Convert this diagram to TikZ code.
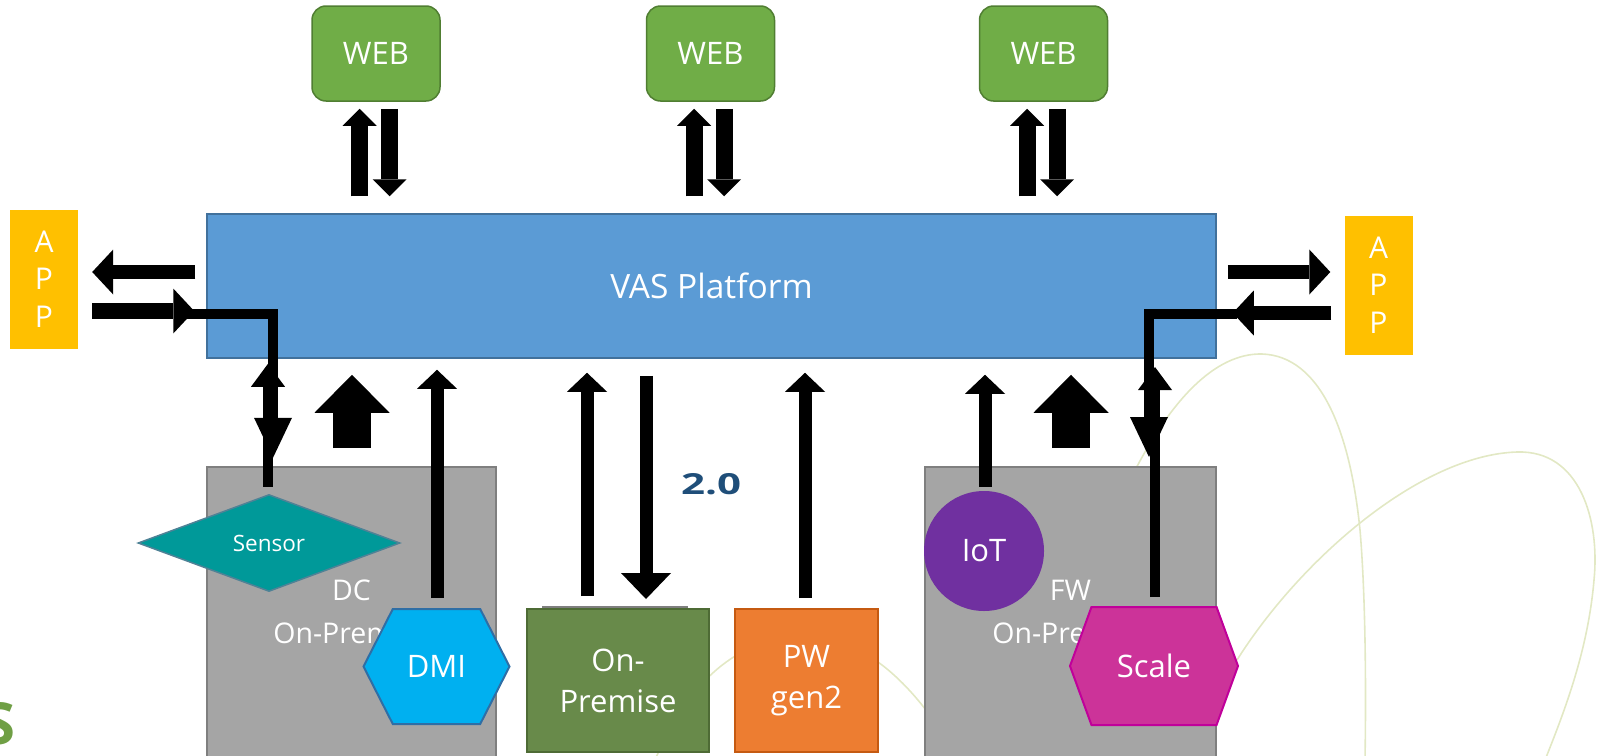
\documentclass[tikz,border=0pt]{standalone}
\usepackage{fontspec}
\setmainfont{Open Sans}
\usetikzlibrary{arrows.meta,shapes.geometric,shapes.symbols,calc}
\definecolor{webfill}{HTML}{70AD47}
\definecolor{webdraw}{HTML}{507E32}
\definecolor{vasfill}{HTML}{5B9BD5}
\definecolor{vasdraw}{HTML}{41719C}
\definecolor{appfill}{HTML}{FFC000}
\definecolor{grayfill}{HTML}{A5A5A5}
\definecolor{graydraw}{HTML}{7F7F7F}
\definecolor{sensorfill}{HTML}{009999}
\definecolor{sensordraw}{HTML}{4F8296}
\definecolor{dmifill}{HTML}{00B0F0}
\definecolor{dmidraw}{HTML}{2F6EA5}
\definecolor{onpfill}{HTML}{688A4A}
\definecolor{onpdraw}{HTML}{4E6B35}
\definecolor{pwfill}{HTML}{ED7D31}
\definecolor{pwdraw}{HTML}{C55A11}
\definecolor{iotfill}{HTML}{7030A0}
\definecolor{scalefill}{HTML}{CC3399}
\definecolor{scaledraw}{HTML}{C0009A}
\definecolor{lblblue}{HTML}{1F4E79}
\definecolor{curvecol}{HTML}{E2E8C4}
\definecolor{sgreen}{HTML}{6F9F45}
\tikzset{
  txt/.style={text=white, font=\fontsize{31}{41}\selectfont, align=center, inner sep=0pt},
  webbox/.style={txt, fill=webfill, draw=webdraw, line width=1.5pt, rounded corners=14pt, minimum width=128pt, minimum height=95pt},
  appbox/.style={txt, fill=appfill, minimum width=68pt, minimum height=139pt, font=\fontsize{30}{37.5}\selectfont},
  graybox/.style={txt, fill=grayfill, draw=graydraw, line width=2pt, font=\fontsize{28.5}{43}\selectfont},
  sqbox/.style={txt, line width=2pt, minimum height=143pt},
  hexbox/.style={txt, shape=signal, signal to=east and west, line width=2pt},
  bgcurve/.style={draw=curvecol, line width=1.6pt},
  wup/.style={line width=17pt, -{Triangle[width=34pt,length=17pt,line width=0pt]}},
  bigup/.style={line width=38pt, -{Triangle[width=75pt,length=38pt,line width=0pt]}},
  thinup/.style={line width=13pt, -{Triangle[width=40pt,length=19pt,line width=0pt]}},
  bigdown/.style={line width=13pt, -{Triangle[width=50pt,length=26pt,line width=0pt]}},
  harr/.style={line width=14pt, -{Triangle[width=45pt,length=21pt,line width=0pt]}},
  elbow/.style={line width=10pt, -{Triangle[width=38pt,length=40pt,line width=0pt]}},
  elbowup/.style={line width=10pt, -{Triangle[width=34pt,length=23pt,line width=0pt]}},
}
\begin{document}
\begin{tikzpicture}[x=1pt,y=-1pt]
\useasboundingbox (0,0) rectangle (1598,755);
\clip (0,0) rectangle (1598,755);
% background decorative curves
\draw[bgcurve] (655,760) .. controls (685,690) and (730,640) .. (800,636) .. controls (860,634) and (910,680) .. (950,745);
\draw[bgcurve] (1130,480) .. controls (1170,400) and (1215,353) .. (1262,354) .. controls (1320,356) and (1350,430) .. (1360,530) .. controls (1366,600) and (1366,700) .. (1365,760);
\draw[bgcurve] (1237,660) .. controls (1300,560) and (1420,455) .. (1517,452) .. controls (1580,450) and (1600,520) .. (1594,580) .. controls (1588,650) and (1565,710) .. (1545,760);
% top web boxes
\node[webbox] (web1) at (376,53.5) {WEB};
\node[webbox] (web2) at (710.5,53.5) {WEB};
\node[webbox] (web3) at (1043.5,53.5) {WEB};
% platform
\node[txt, fill=vasfill, draw=vasdraw, line width=1.5pt, minimum width=1009pt, minimum height=144pt, font=\fontsize{33.5}{40}\selectfont] (vas) at (711.5,286) {VAS Platform};
% apps
\node[appbox] (app1) at (44,279) {A\\P\\P};
\node[appbox] (app2) at (1378.5,285) {A\\P\\P};
% grey premises boxes
\node[graybox, minimum width=289pt, minimum height=290pt] (dc) at (351.5,612) {DC\\On-Premise};
\node[graybox, minimum width=291pt, minimum height=290pt] (fw) at (1070.5,612) {FW\\On-Premise};
% bottom elements
\node[txt, shape=diamond, fill=sensorfill, draw=sensordraw, line width=1.5pt, minimum width=262pt, minimum height=97pt, font=\fontsize{22.5}{26}\selectfont] (sensor) at (269,543) {Sensor};
\node[hexbox, fill=dmifill, draw=dmidraw, minimum width=146pt, minimum height=115pt, signal pointer angle=126] (dmi) at (436.5,666.5) {DMI};
\fill[graydraw] (542,606) rectangle (688,612);
\node[sqbox, fill=onpfill, draw=onpdraw, minimum width=182pt] (onp) at (618,680.5) {\raisebox{-3pt}{On-}\\\raisebox{-3pt}{Premise}};
\node[sqbox, fill=pwfill, draw=pwdraw, minimum width=143pt] (pw) at (806.5,680.5) {\raisebox{-3pt}{PW}\\\raisebox{-3pt}{gen2}};
\node[txt, circle, fill=iotfill, minimum size=120pt] (iot) at (984,551) {IoT};
\node[hexbox, fill=scalefill, draw=scaledraw, minimum width=168pt, minimum height=118pt, signal pointer angle=140] (scale) at (1154,666) {Scale};
% arrows platform <-> web
\foreach \w in {web1,web2,web3}{
  \draw[wup] ($(vas.north -| \w.south)+(-16.5,-17)$) -- ($(\w.south)+(-16.5,7)$);
  \draw[wup] ($(\w.south)+(13.5,7)$) -- ($(vas.north -| \w.south)+(13.5,-17)$);
}
% left app arrows
\draw[harr] ($(vas.west)+(-11,-14)$) -- ($(app1.east |- vas.west)+(14,-14)$);
\draw[elbow] ($(vas.west)+(-20,28)$) -| ($(sensor.north)+(4,-36)$);
\draw[elbowup] ($(sensor.north)+(-1,-7)$) -- ($(sensor.north)+(-1,-130)$);
\draw[harr, line width=16pt] ($(app1.east |- vas.west)+(14,25)$) -- ($(vas.west)+(-12,25)$);
% right app arrows
\draw[harr] ($(vas.east)+(11,-14)$) -- ($(app2.west |- vas.east)+(-14,-14)$);
\draw[elbow] ($(vas.east)+(20,28)$) -| ($(scale.north)+(-5,-149)$);
\draw[elbowup] ($(scale.north)+(1,-9)$) -- ($(scale.north)+(1,-239)$);
\draw[harr] ($(app2.west |- vas.east)+(-13,27)$) -- ($(vas.east)+(16,27)$);
% bottom arrows
\draw[bigup] ($(dc.north)+(0.5,-18)$) -- ($(dc.north |- vas.south)+(0.5,16)$);
\draw[thinup] ($(dmi.north)+(0.5,-10)$) -- ($(dmi.north |- vas.south)+(0.5,11)$);
\draw[thinup] ($(onp.north)+(-31,-12)$) -- ($(onp.north |- vas.south)+(-31,14)$);
\draw[bigdown] ($(onp.north |- vas.south)+(28,17)$) -- ($(onp.north)+(28,-9)$);
\draw[thinup] ($(pw.north)+(-1.5,-10)$) -- ($(pw.north |- vas.south)+(-1.5,14)$);
\draw[thinup] ($(iot.north)+(1,-4)$) -- ($(iot.north |- vas.south)+(1,16)$);
\draw[bigup] ($(fw.north)+(0.5,-18)$) -- ($(fw.north |- vas.south)+(0.5,16)$);
% labels
\node[font=\bfseries\fontsize{29}{32}\selectfont, text=lblblue, inner sep=0pt] (ver) at (711,484) {\scalebox{1.45}[1]{2.0}};
\node[font=\bfseries\fontsize{58}{60}\selectfont, text=sgreen, inner sep=0pt, anchor=base east] (cut) at (16,744) {S};
\end{tikzpicture}
\end{document}
